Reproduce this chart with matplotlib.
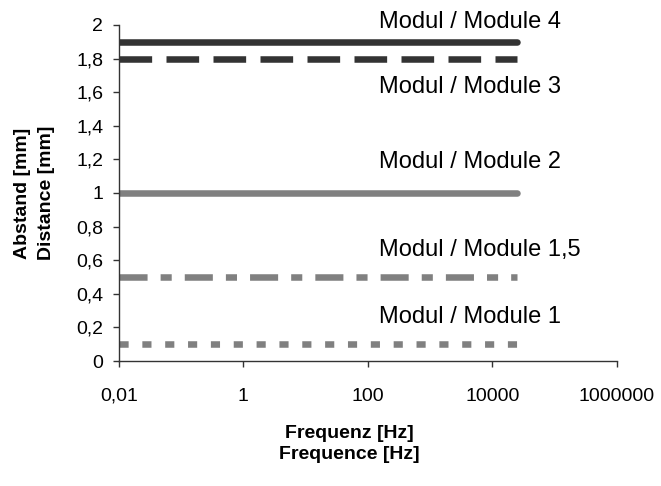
import matplotlib
matplotlib.use("Agg")
import matplotlib.pyplot as plt
from matplotlib.ticker import FixedLocator, FuncFormatter, NullLocator

plt.rcParams["font.family"] = ["Liberation Sans", "DejaVu Sans"]

# data
modules   = ["Modul / Module 4", "Modul / Module 3", "Modul / Module 2",
             "Modul / Module 1,5", "Modul / Module 1"]
freq      = [0.01, 25000]
distance  = [1.9, 1.8, 1.0, 0.5, 0.1]
x_ticks   = [0.01, 1, 100, 10000, 1000000]
x_labels  = ["0,01", "1", "100", "10000", "1000000"]
y_ticks   = [0, 0.2, 0.4, 0.6, 0.8, 1.0, 1.2, 1.4, 1.6, 1.8, 2.0]

# style per line
colors  = ["#333333", "#333333", "#808080", "#808080", "#808080"]
dashes  = [None, (5, 2.2), None, (4.3, 2, 1.7, 2), (1.4, 2.1)]
label_y = [1.985, 1.595, 1.15, 0.625, 0.2255]

fig = plt.figure(figsize=(6.61, 4.86), dpi=100)
ax = fig.add_axes([0.18, 0.2572, 0.753, 0.6914])

for name, d, c, ds, ly in zip(modules, distance, colors, dashes, label_y):
    kw = dict(color=c, linewidth=4.7, solid_capstyle="round", dash_capstyle="butt")
    if ds is not None:
        kw["dashes"] = ds
    ax.plot(freq, [d, d], **kw)
    ax.text(150, ly, name, fontsize=17, ha="left", va="baseline", color="black")

ax.set_xscale("log")
ax.set_xlim(0.01, 1000000)
ax.set_ylim(0, 2)
ax.xaxis.set_major_locator(FixedLocator(x_ticks))
ax.xaxis.set_minor_locator(NullLocator())
ax.set_xticks(x_ticks)
ax.set_xticklabels(x_labels)
ax.set_yticks(y_ticks)
ax.yaxis.set_major_formatter(FuncFormatter(lambda v, _: f"{v:g}".replace(".", ",")))

for s in ["top", "right"]:
    ax.spines[s].set_visible(False)
for s in ["left", "bottom"]:
    ax.spines[s].set_color("#333333")
    ax.spines[s].set_linewidth(1.0)
ax.tick_params(axis="both", direction="out", length=4.3, width=1, color="#333333",
               labelsize=14)
ax.tick_params(axis="y", pad=7)
ax.tick_params(axis="x", pad=15)

fig.text(349 / 661, 1 - 444 / 486, "Frequenz [Hz]\nFrequence [Hz]", ha="center",
         va="center", fontsize=14, fontweight="bold", linespacing=1.33)
fig.text(34.5 / 661, 1 - 193 / 486, "Abstand [mm]\nDistance [mm]", ha="center",
         va="center", fontsize=14, fontweight="bold", rotation=90, linespacing=1.6)

fig.savefig("out.png", dpi=100)
